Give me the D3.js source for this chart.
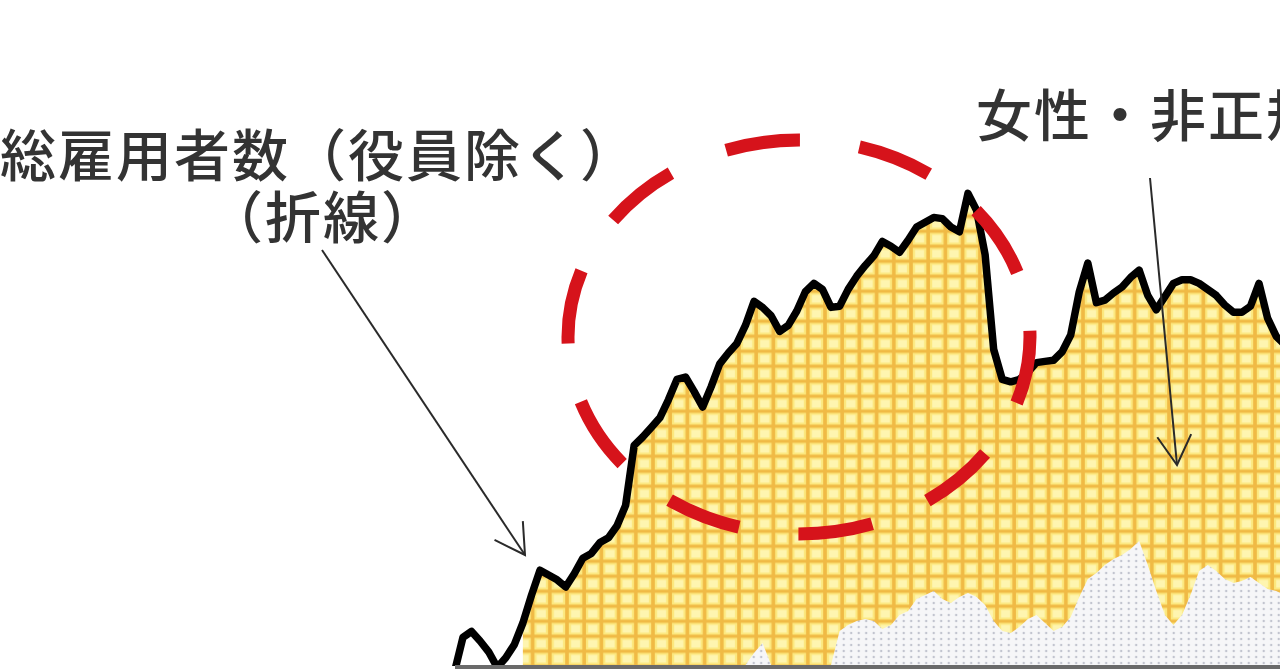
<!DOCTYPE html>
<html>
<head>
<meta charset="utf-8">
<script src="https://cdn.jsdelivr.net/npm/d3@7"></script>
<style>
  html, body { margin: 0; padding: 0; background: #fff; overflow: hidden; }
  svg { display: block; }
</style>
</head>
<body>
<div id="chart"></div>
<script>
const width = 1280;
const height = 670;

// months shown in the visible window (2015/3 - 2023/4)
const months = d3.timeMonth.range(new Date(2015, 2, 1), new Date(2023, 4, 1));
const fmt = d3.timeFormat("%Y-%m");

// 総雇用者数（役員除く）, 万人
const totalEmployees = [
  5194, 5223, 5228, 5220, 5211, 5198, 5206, 5217, 5235, 5258,
  5279, 5275, 5271, 5265, 5276, 5289, 5293, 5302, 5306, 5316,
  5333, 5383, 5390, 5398, 5406, 5421, 5438, 5440, 5428, 5415,
  5432, 5451, 5460, 5468, 5483, 5503, 5498, 5491, 5478, 5483,
  5495, 5511, 5518, 5513, 5498, 5499, 5513, 5524, 5533, 5541,
  5553, 5549, 5544, 5554, 5565, 5569, 5573, 5572, 5565, 5561,
  5593, 5579, 5542, 5463, 5438, 5436, 5438, 5444, 5452, 5453,
  5454, 5461, 5475, 5511, 5535, 5502, 5504, 5510, 5515, 5523,
  5529, 5508, 5496, 5507, 5518, 5521, 5521, 5518, 5513, 5508,
  5500, 5494, 5494, 5499, 5518, 5489, 5474, 5467
];

// grey dotted series (lower part), 万人
const greySeries = [
  0, 0, 0, 0, 0, 0, 0, 0, 0, 0,
  0, 0, 0, 0, 0, 0, 0, 0, 0, 0,
  0, 0, 0, 0, 0, 0, 0, 0, 0, 0,
  0, 0, 0, 0, 0, 6, 11, 0, 0, 0,
  0, 0, 0, 0, 0, 17, 20, 22, 23, 22,
  18, 20, 25, 27, 33, 35, 37, 33, 31, 34,
  36, 34, 30, 22, 17, 16, 19, 23, 25, 21,
  17, 19, 24, 34, 43, 46, 50, 53, 55, 58,
  62, 50, 37, 25, 20, 25, 35, 47, 50, 47,
  43, 41, 42, 44, 41, 38, 37, 35
];

// the yellow area starts at this month
const yellowStart = "2015-11";

const labels = [
  { text: "総雇用者数（役員除く）", x: 0, y: 176 },
  { text: "（折線）", x: 207, y: 238 },
  { text: "女性・非正規", x: 976, y: 136 }
];
const arrows = [
  { from: [322, 250], to: [525, 555] },
  { from: [1150, 178], to: [1177, 465] }
];

const svg = d3.select("#chart")
  .append("svg")
  .attr("width", width)
  .attr("height", height);

const x = d3.scalePoint()
  .domain(months.map(fmt))
  .range([454.4, 1284.7]);
const y = d3.scaleLinear().domain([5200, 5700]).range([665, 65]);
const yGrey = d3.scaleLinear().domain([0, 100]).range([665, 465]);

const defs = svg.append("defs");

// yellow grid pattern
const grid = defs.append("pattern")
  .attr("id", "grid")
  .attr("patternUnits", "userSpaceOnUse")
  .attr("x", -1.6).attr("y", 5.45)
  .attr("width", 17.2).attr("height", 15);
grid.append("rect").attr("width", 17.2).attr("height", 15).attr("fill", "#f0ba45");
grid.append("rect").attr("x", 2.8).attr("y", 2.4).attr("width", 13.6).attr("height", 11.8).attr("fill", "#fce87e");
grid.append("rect").attr("x", 5).attr("y", 4.4).attr("width", 9.2).attr("height", 7.8).attr("fill", "#fef5b0");

// grey dotted pattern
const dots = defs.append("pattern")
  .attr("id", "dots")
  .attr("patternUnits", "userSpaceOnUse")
  .attr("width", 7.5).attr("height", 6);
dots.append("rect").attr("width", 7.5).attr("height", 6).attr("fill", "#f6f6f8");
dots.append("circle").attr("cx", 3.7).attr("cy", 3).attr("r", 1.2).attr("fill", "#c2c4cf");

defs.append("clipPath").attr("id", "plot")
  .append("rect").attr("x", 0).attr("y", 0).attr("width", width).attr("height", 666);

const plot = svg.append("g").attr("clip-path", "url(#plot)");

const rows = months.map((m, i) => ({
  key: fmt(m),
  total: totalEmployees[i],
  grey: greySeries[i]
}));

// yellow area under the total line
const startIdx = rows.findIndex(d => d.key === yellowStart);
plot.append("path")
  .datum(rows.slice(startIdx))
  .attr("fill", "url(#grid)")
  .attr("d", d3.area()
    .x(d => x(d.key))
    .y0(y(5200))
    .y1(d => y(d.total)));

// grey dotted area
plot.append("path")
  .datum(rows)
  .attr("fill", "url(#dots)")
  .attr("d", d3.area()
    .x(d => x(d.key))
    .y0(yGrey(0))
    .y1(d => yGrey(d.grey)));

// axis base line
svg.append("line")
  .attr("x1", 455).attr("x2", width)
  .attr("y1", 667).attr("y2", 667)
  .attr("stroke", "#6a6a6a")
  .attr("stroke-width", 4);

// total employees line
plot.append("path")
  .datum(rows)
  .attr("fill", "none")
  .attr("stroke", "#000")
  .attr("stroke-width", 7.5)
  .attr("stroke-linejoin", "round")
  .attr("stroke-linecap", "round")
  .attr("d", d3.line().x(d => x(d.key)).y(d => y(d.total)));

// red dashed ellipse
const cx = 799, cy = 337, rx = 231, ry = 197;
const ellipse = svg.append("path")
  .attr("fill", "none")
  .attr("stroke", "#d6131b")
  .attr("stroke-width", 13)
  .attr("d", `M${cx + rx},${cy} A${rx},${ry} 0 0 1 ${cx - rx},${cy} A${rx},${ry} 0 0 1 ${cx + rx},${cy}`);
const per = ellipse.node().getTotalLength() / 10;
ellipse
  .attr("stroke-dasharray", `${per * 0.555} ${per * 0.445}`)
  .attr("stroke-dashoffset", 7);

// arrows
arrows.forEach(a => {
  const [x1, y1] = a.from, [x2, y2] = a.to;
  const ang = Math.atan2(y1 - y2, x1 - x2);
  const len = 34, spread = Math.PI / 6;
  const g = svg.append("g")
    .attr("stroke", "#2a2a2a")
    .attr("stroke-width", 2)
    .attr("fill", "none");
  g.append("line").attr("x1", x1).attr("y1", y1).attr("x2", x2).attr("y2", y2);
  g.append("path").attr("d",
    `M${x2 + len * Math.cos(ang - spread)},${y2 + len * Math.sin(ang - spread)}` +
    `L${x2},${y2}` +
    `L${x2 + len * Math.cos(ang + spread)},${y2 + len * Math.sin(ang + spread)}`);
});

// labels
svg.selectAll("text.label")
  .data(labels)
  .enter().append("text")
  .attr("class", "label")
  .attr("x", d => d.x)
  .attr("y", d => d.y)
  .attr("font-family", "'Noto Sans CJK JP', sans-serif")
  .attr("font-size", 56)
  .attr("font-weight", 500)
  .attr("letter-spacing", 2)
  .attr("fill", "#333")
  .text(d => d.text);
</script>
</body>
</html>
